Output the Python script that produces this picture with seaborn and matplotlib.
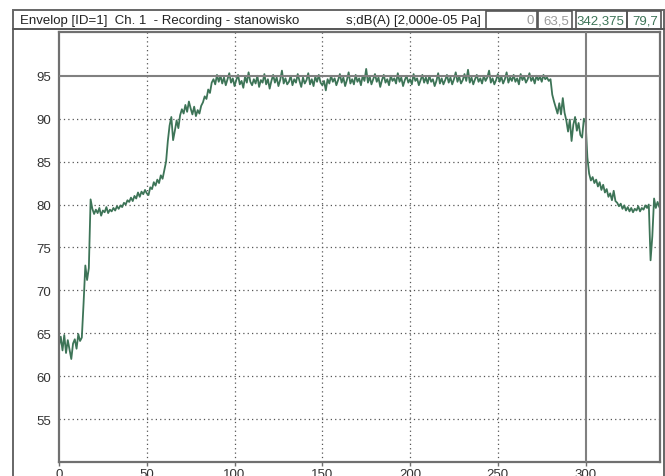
import numpy as np
import pandas as pd
import matplotlib
matplotlib.use("Agg")
import matplotlib.pyplot as plt
from matplotlib.patches import Rectangle
import seaborn as sns

# ---- data (1 s steps) ----
t_step = 1.0
level_start = [63.5, 64.6, 63.0, 64.8, 62.7, 64.2, 63.1, 62.0, 63.8, 64.3, 63.2, 64.9, 64.1, 64.5,
               68.5, 72.9, 71.2, 72.6]
level_rise = [80.6, 79.5, 78.9, 79.4, 79.0, 79.6, 78.7, 79.3, 79.1, 79.7, 79.0, 79.4, 79.2, 79.6, 79.3, 79.8, 79.5, 79.9,
              79.7, 80.2, 80.0, 80.5, 80.3, 80.8, 80.4, 81.0, 80.7, 81.4, 80.9, 81.5, 81.2, 81.7, 81.3,
              81.1, 82.0, 81.8, 82.6, 82.2, 82.9, 82.5, 83.4, 83.0, 84.0,
              85.0, 87.4, 89.2, 90.2, 87.5, 88.6, 89.8, 88.9, 90.4, 91.1,
              90.6, 91.6, 90.8, 92.0, 91.2, 90.5, 91.4, 90.3, 91.0, 90.6, 91.5, 91.9, 92.6, 92.3, 93.4,
              93.0, 94.2, 94.6, 94.0, 95.1]
level_plateau = [94.3, 95.0, 94.1, 94.8, 93.9, 94.6, 95.3, 94.2, 94.7, 93.8,
                 94.5, 95.1, 94.0, 94.4, 93.6, 94.9, 94.2, 95.4, 94.3, 93.9,
                 94.6, 94.1, 95.0, 93.7, 94.5, 94.2, 95.2, 94.0, 94.6, 93.5,
                 94.4, 95.1, 94.2, 94.8, 93.8, 94.5, 95.6, 94.1, 94.7, 94.0,
                 94.3, 95.0, 93.9, 94.6, 94.2, 95.2, 94.4, 93.7, 94.8, 94.1,
                 94.5, 95.3, 94.0, 94.6, 93.8, 94.9, 94.3, 95.1, 94.2, 93.9,
                 94.4, 93.3, 94.6, 94.1, 95.0, 94.3, 94.7, 93.9, 94.5, 95.2,
                 94.2, 94.8, 93.8, 94.5, 95.4, 94.1, 94.6, 94.0, 95.1, 94.3,
                 94.7, 93.9, 95.0, 94.4, 95.8, 94.2, 94.9, 94.0, 94.6, 95.2,
                 94.3, 94.8, 93.7, 94.5, 95.1, 94.2, 94.6, 93.9, 95.0, 94.4,
                 94.7, 94.1, 95.3, 94.3, 94.8, 93.8, 94.5, 95.0, 94.2, 94.6,
                 94.0, 95.2, 94.4, 94.7, 93.9, 94.5, 95.1, 94.2, 94.8, 94.1,
                 95.0, 94.3, 94.6, 93.8, 94.4, 95.3, 94.1, 94.7, 94.0, 94.5,
                 95.1, 94.2, 94.8, 94.0, 94.6, 95.4, 94.3, 94.9, 94.1, 94.5,
                 95.2, 94.4, 95.7, 94.2, 94.8, 94.0, 94.6, 95.1, 94.3, 94.7,
                 94.1, 95.0, 94.4, 94.8, 95.6, 94.2, 94.7, 94.0, 94.5, 95.2,
                 94.3, 94.9, 94.1, 94.6, 95.4, 94.2, 94.8, 94.4, 95.1, 94.3,
                 94.7, 94.0, 95.2, 94.5, 94.9, 94.2, 94.6, 95.3, 94.4, 94.8,
                 94.1, 95.0, 94.5, 94.9, 94.3, 95.1, 94.6, 94.8, 94.4]
level_fall = [94.6, 92.8, 92.0, 91.3, 90.6, 91.8, 90.5, 92.4, 90.7, 89.8,
              88.5, 89.9, 87.4, 89.3, 90.2, 88.6, 89.5, 88.1, 87.8, 90.0,
              89.6, 85.5, 83.6, 82.8, 83.2, 82.5, 82.9, 82.1, 82.6, 81.7,
              82.3, 81.4, 81.8, 80.9, 81.3, 80.5, 81.6, 80.4, 80.2, 79.8,
              80.1, 79.5, 79.9, 79.3, 79.7, 79.2, 79.6, 79.1, 79.5, 79.3,
              79.8, 79.2, 79.6, 79.4, 79.9, 79.6, 80.0, 73.5, 76.3, 80.7,
              79.6, 80.3, 79.7]

levels = level_start + level_rise + level_plateau + level_fall
times = np.arange(len(levels)) * t_step

x_ticks = [0, 50, 100, 150, 200, 250, 300]
y_ticks = [55, 60, 65, 70, 75, 80, 85, 90, 95]
x_range = [0, 342.375]
y_range = [50, 100.1]
cursor_x = 300
cursor_y = 95

header_left = "Envelop [ID=1]  Ch. 1  - Recording - stanowisko"
header_unit = "s;dB(A) [2,000e-05 Pa]"
box_values = ["0", "63,5", "342,375", "79,7"]

df = pd.DataFrame({"time": times, "level": levels})

# ---- style ----
sns.set_style("white")
plt.rcParams["font.family"] = ["Liberation Sans Narrow", "Liberation Sans", "DejaVu Sans"]

W, H = 665, 477
fig = plt.figure(figsize=(W / 100, H / 100), dpi=100)
fig.patch.set_facecolor("white")

ax_l, ax_r, ax_t, ax_b = 59, 660, 33, 463
ax = fig.add_axes([ax_l / W, (H - ax_b) / H, (ax_r - ax_l) / W, (ax_b - ax_t) / H])

green = "#3d7457"
sns.lineplot(data=df, x="time", y="level", ax=ax, color=green, linewidth=1.3, legend=False)

ax.set_xlim(*x_range)
ax.set_ylim(*y_range)
ax.set_xticks(x_ticks)
ax.set_yticks(y_ticks)
ax.set_xlabel("")
ax.set_ylabel("")

for xv in x_ticks:
    if xv not in (0, cursor_x):
        ax.axvline(xv, color="#555555", linestyle=(0, (1, 2.5)), linewidth=0.9, zorder=0)
for yv in y_ticks:
    if yv != cursor_y:
        ax.axhline(yv, color="#555555", linestyle=(0, (1, 2.5)), linewidth=0.9, zorder=0)
ax.axhline(cursor_y, color="#808080", linewidth=1.5, zorder=3)
ax.axvline(cursor_x, color="#808080", linewidth=1.5, zorder=3)

for s in ax.spines.values():
    s.set_color("#707070")
    s.set_linewidth(1.6)
    s.set_visible(True)

ax.tick_params(axis="y", length=0, pad=6, labelsize=9.5, labelcolor="#333333")
ax.tick_params(axis="x", length=3, width=1, color="#707070", pad=1, labelsize=9.5, labelcolor="#333333",
               bottom=True)

# ---- outer frame and header ----
def frac_rect(x0, y0, x1, y1, **kw):
    r = Rectangle((x0 / W, 1 - y1 / H), (x1 - x0) / W, (y1 - y0) / H,
                  transform=fig.transFigure, fill=False, **kw)
    fig.patches.append(r)

frac_rect(13, 11, 664, 490, edgecolor="#666666", linewidth=1.4)
fig.add_artist(plt.Line2D([13 / W, 664 / W], [1 - 29.5 / H, 1 - 29.5 / H],
                          transform=fig.transFigure, color="#555555", linewidth=1.4))
boxes = [(486, 537), (538, 572), (576, 627), (627, 661)]
box_colors = ["#999999", "#999999", green, green]
for (bx0, bx1), txt, c in zip(boxes, box_values, box_colors):
    frac_rect(bx0, 12, bx1, 29.5, edgecolor="#555555", linewidth=1.2)
    fig.text((bx1 - 3) / W, 1 - 21 / H, txt, ha="right", va="center", fontsize=9.5, color=c)

fig.text(20 / W, 1 - 21 / H, header_left, ha="left", va="center", fontsize=9.5, color="#222222")
fig.text(481 / W, 1 - 21 / H, header_unit, ha="right", va="center", fontsize=9.5, color="#222222")

fig.savefig("out.png", dpi=100, facecolor="white")
